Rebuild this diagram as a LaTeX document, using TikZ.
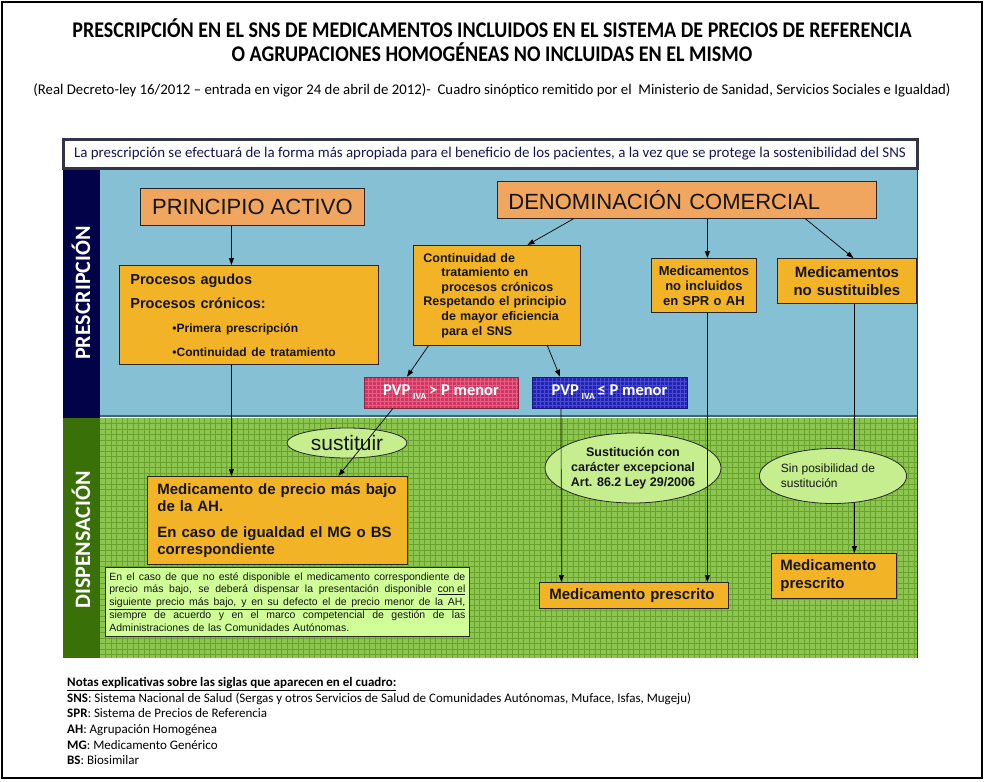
\documentclass[tikz,border=0pt]{standalone}
\usepackage{fontspec}
\setmainfont{Liberation Sans}
\newfontfamily\calibri{Carlito}
\usetikzlibrary{arrows.meta,shapes.geometric}
\definecolor{navycol}{RGB}{2,2,72}
\definecolor{bluearea}{RGB}{134,192,212}
\definecolor{greencol}{RGB}{58,112,8}
\definecolor{greenarea}{RGB}{140,198,80}
\definecolor{gridgreen}{RGB}{106,162,46}
\definecolor{orangefill}{RGB}{240,166,94}
\definecolor{goldfill}{RGB}{242,180,38}
\definecolor{ellgreen}{RGB}{198,238,142}
\definecolor{notegreen}{RGB}{208,255,152}
\definecolor{pvpred}{RGB}{212,52,98}
\definecolor{gridred}{RGB}{228,96,130}
\definecolor{pvpblue}{RGB}{36,36,178}
\definecolor{gridblue}{RGB}{74,74,212}
\definecolor{bannerframe}{RGB}{52,52,72}
\definecolor{bannertext}{RGB}{22,22,80}
\definecolor{sepline}{RGB}{68,98,118}
\definecolor{textdark}{RGB}{20,20,20}
\newcommand{\fs}[2]{\fontsize{#1}{#2}\selectfont}
\newcommand{\jline}[1]{{\spaceskip=0.25em plus 3em minus 0.05em\makebox[356pt][s]{#1}}}
\begin{document}
\begin{tikzpicture}[x=1pt,y=-1pt,
  title/.style={font=\calibri\bfseries\fs{20}{24}},
  collabel/.style={rotate=90, text=white, font=\calibri\bfseries\fs{22}{26}},
  box/.style={draw=black!85, line width=0.8pt, inner ysep=0pt, anchor=north west, text=textdark},
  orangebox/.style={box, fill=orangefill, font=\fs{22}{26}},
  goldbox/.style={box, fill=goldfill, font=\bfseries\fs{12.5}{14.6}},
  ellbox/.style={ellipse, draw=black!85, line width=0.8pt, fill=ellgreen, inner sep=0pt, text=textdark, align=center},
  pvpgrid/.style={path picture={
      \foreach \i in {0,4,...,160}
        \draw[#1, line width=0.4pt] ([xshift=\i pt]path picture bounding box.north west) -- ([xshift=\i pt]path picture bounding box.south west);
      \foreach \j in {0,4,...,32}
        \draw[#1, line width=0.4pt] ([yshift=-\j pt]path picture bounding box.north west) -- ([yshift=-\j pt]path picture bounding box.north east);
    }},
  pvpbox/.style={draw=#1!70!black, line width=0.6pt, fill=#1, text=white, minimum height=31pt, inner sep=0pt, font=\calibri\bfseries\fs{16.5}{18}},
  arr/.style={-{Triangle[length=7pt,width=5pt]}, line width=0.7pt, black}]
\useasboundingbox (0,0) rectangle (984,781);
\fill[white] (0,0) rectangle (984,781);
\draw[line width=1.2pt] (2,2) rectangle (982,778);

% titulo
\node[title] (tit1) at (492,28) {\scalebox{1}[1.12]{PRESCRIPCIÓN EN EL SNS DE MEDICAMENTOS INCLUIDOS EN EL SISTEMA DE PRECIOS DE REFERENCIA}};
\node[title] (tit2) at (492,52) {\scalebox{1}[1.12]{O AGRUPACIONES HOMOGÉNEAS NO INCLUIDAS EN EL MISMO}};
\node[font=\calibri\fs{14.8}{17}] (sub) at (492,90) {(Real Decreto-ley 16/2012 – entrada en vigor 24 de abril de 2012)-\ \ Cuadro sinóptico remitido por el\ \ Ministerio de Sanidad, Servicios Sociales e Igualdad)};

% fondos
\fill[navycol] (63,168) rectangle (100,418);
\fill[bluearea] (100,168) rectangle (917,416);
\fill[greencol] (63,418) rectangle (100,658);
\fill[greenarea] (100,418) rectangle (917,658);
\foreach \gx in {105.5,111,...,917}
  \draw[gridgreen, line width=0.45pt] (\gx,418) -- (\gx,658);
\foreach \gy in {423.5,429,...,658}
  \draw[gridgreen, line width=0.45pt] (100,\gy) -- (917,\gy);
\draw[sepline, line width=2.5pt] (100,416) -- (917,416);
\draw[bannerframe, line width=1pt] (917,168) -- (917,658);

\node[draw=bannerframe, line width=3pt, fill=white, minimum width=854pt, minimum height=29pt, inner sep=0pt,
  text=bannertext, font=\calibri\fs{14.9}{17}] (intro) at (490,153.5)
  {La prescripción se efectuará de la forma más apropiada para el beneficio de los pacientes, a la vez que se protege la sostenibilidad del SNS};

\node[collabel] (lblpresc) at (81,293) {PRESCRIPCIÓN};
\node[collabel] (lbldisp) at (81,540) {DISPENSACIÓN};

% prescripcion
\node[orangebox, minimum width=224pt, minimum height=37pt, inner xsep=0pt] (pa) at (140,188) {PRINCIPIO ACTIVO};
\node[orangebox, text width=357pt, inner xsep=11pt, minimum height=37pt, align=left] (dc) at (497,181) {DENOMINACIÓN COMERCIAL};

\node[goldbox, text width=237pt, inner xsep=11pt, minimum height=99pt, align=left, font=\bfseries\fs{14.5}{24}] (proc) at (119,265)
  {Procesos agudos\\
   Procesos crónicos:\\
   {\fs{12}{24}\hspace*{42pt}•Primera prescripción}\\
   {\fs{12}{24}\hspace*{42pt}•Continuidad de tratamiento}};

\node[goldbox, text width=147pt, inner xsep=10pt, minimum height=100pt, align=left] (cont) at (413,245)
  {Continuidad de\\
   \hspace*{18pt}tratamiento en\\
   \hspace*{18pt}procesos crónicos\\
   Respetando el principio\\
   \hspace*{18pt}de mayor eficiencia\\
   \hspace*{18pt}para el SNS};

\node[goldbox, text width=105pt, inner xsep=0pt, minimum height=54pt, align=center, font=\bfseries\fs{13}{15}] (noinc) at (651,258)
  {Medicamentos\\ no incluidos\\ en SPR o AH};

\node[goldbox, text width=139pt, inner xsep=0pt, minimum height=45pt, align=center, font=\bfseries\fs{15}{18}] (nosust) at (777,258)
  {Medicamentos\\ no sustituibles};

\node[pvpbox=pvpred, pvpgrid=gridred, minimum width=154pt] (pvpmay) at (441,392.5)
  {\raisebox{1.5pt}{PVP\,\raisebox{-4pt}{\fs{9.5}{9.5}IVA}\,> P menor}};
\node[pvpbox=pvpblue, pvpgrid=gridblue, minimum width=155pt] (pvpmen) at (609.5,392.5)
  {\raisebox{1.5pt}{PVP\,\raisebox{-4pt}{\fs{9.5}{9.5}IVA}\,≤ P menor}};

% dispensacion
\node[ellbox, minimum width=120pt, minimum height=30pt, font=\fs{21}{24}] (sust) at (347,443) {sustituir};

\node[goldbox, text width=240pt, inner xsep=10pt, minimum height=88pt, align=left, font=\bfseries\fs{15}{17.5}] (bajo) at (147,476)
  {Medicamento de precio más bajo\\
   de la AH.\\[8pt]
   En caso de igualdad el MG o BS\\
   correspondiente};

\node[box, fill=notegreen, text width=356pt, inner xsep=4pt, minimum height=69pt, align=left, font=\fs{10.5}{12.8}] (nota) at (105,567)
  {\jline{En el caso de que no esté disponible el medicamento correspondiente de}\\
   \jline{precio más bajo, se deberá dispensar la presentación disponible \underline{con el}}\\
   \underline{\jline{siguiente precio más bajo, y en su defecto el de precio menor de la AH,}}\\
   \jline{siempre de acuerdo y en el marco competencial de gestión de las}\\
   Administraciones de las Comunidades Autónomas.};

\node[ellbox, minimum width=176pt, minimum height=70pt, font=\bfseries\fs{12.5}{15}] (exc) at (633,468)
  {Sustitución con\\ carácter excepcional\\ Art. 86.2 Ley 29/2006};

\node[goldbox, text width=169pt, inner xsep=10pt, minimum height=26pt, align=left, font=\bfseries\fs{15}{18}] (presc1) at (539,582) {Medicamento prescrito};
\node[goldbox, text width=107pt, inner xsep=9pt, minimum height=45pt, align=left, font=\bfseries\fs{15}{18}] (presc2) at (771,553) {Medicamento\\ prescrito};

% flechas
\draw[arr] ([xshift=-21pt]pa.south) -- ([xshift=-17.5pt]proc.north);
\draw[arr] ([xshift=-113.5pt]dc.south) -- ([xshift=30.5pt]cont.north);
\draw[arr] ([xshift=20.5pt]dc.south) -- ([xshift=3.5pt]noinc.north);
\draw[arr] ([xshift=118.5pt]dc.south) -- ([xshift=6.5pt]nosust.north);
\draw[arr] ([xshift=-68.5pt]cont.south) -- ([xshift=-34pt]pvpmay.north);
\draw[arr] ([xshift=50.5pt]cont.south) -- ([xshift=-49.5pt]pvpmen.north);
\draw[arr] ([xshift=-17.5pt]proc.south) -- ([xshift=-46pt]bajo.north);
\draw[arr] ([xshift=-48pt]pvpmay.south) -- ([xshift=61pt]bajo.north);
\draw[arr] ([xshift=-48.5pt]pvpmen.south) -- ([xshift=-72.5pt]presc1.north);
\draw[arr] ([xshift=3.5pt]noinc.south) -- ([xshift=73.5pt]presc1.north);
\draw[arr] ([xshift=7.5pt]nosust.south) -- ([xshift=20.5pt]presc2.north);

\node[ellbox, minimum width=140pt, minimum height=55pt, align=left, font=\fs{12}{15}] (sinpos) at (833,476)
  {Sin posibilidad de\hspace*{10pt}\\ sustitución};

% notas
\node[anchor=north west, inner sep=0pt, align=left, font=\calibri\fs{13}{15.7}] (notas) at (67,677)
  {\textbf{\underline{Notas explicativas sobre las siglas que aparecen en el cuadro:}}\\
   \textbf{SNS}: Sistema Nacional de Salud (Sergas y otros Servicios de Salud de Comunidades Autónomas, Muface, Isfas, Mugeju)\\
   \textbf{SPR}: Sistema de Precios de Referencia\\
   \textbf{AH}: Agrupación Homogénea\\
   \textbf{MG}: Medicamento Genérico\\
   \textbf{BS}: Biosimilar};
\end{tikzpicture}
\end{document}
